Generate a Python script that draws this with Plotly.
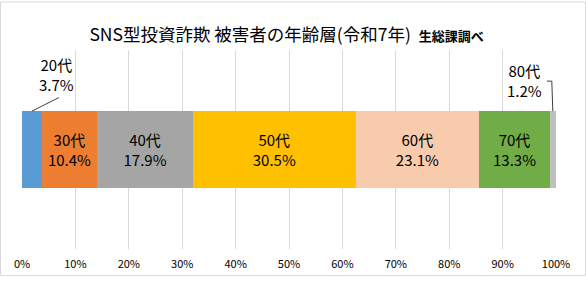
import plotly.graph_objects as go

ages = ["20代", "30代", "40代", "50代", "60代", "70代", "80代"]
shares = [3.7, 10.4, 17.9, 30.5, 23.1, 13.3, 1.2]
colors = ["#5B9BD5", "#ED7D31", "#A5A5A5", "#FFC000", "#F8CBAD", "#70AD47", "#C0C0C0"]
outside = ["20代", "80代"]
tick_vals = [0, 10, 20, 30, 40, 50, 60, 70, 80, 90, 100]
tick_text = [f"{v}%" for v in tick_vals]

FONT = "Noto Sans CJK JP"
BARGAP = 0.615
PW, PH = 534, 205  # plot area in pixels
bar_top = (1 - BARGAP) / 2          # data y of bar top
bar_top_p = 0.5 + bar_top           # paper y of bar top

fig = go.Figure()
for a, v, c in zip(ages, shares, colors):
    txt = "" if a in outside else f"{a}<br>{v:.1f}%"
    fig.add_trace(go.Bar(
        x=[v], y=[0], orientation="h", name=a,
        marker=dict(color=c, line=dict(width=0)),
        text=[txt], textposition="inside", insidetextanchor="middle",
        textfont=dict(family=FONT, size=15, color="black"),
        hoverinfo="skip",
    ))

cum = []
s = 0
for v in shares:
    cum.append(s + v / 2)
    s += v
scale = 100 / s

def px_x(p):  # pixel offset to x data units
    return p / PW * 100

def px_y(p):  # pixel offset to paper units
    return p / PH

shapes = []
i20 = ages.index("20代")
x20 = cum[i20] * scale
fig.add_annotation(
    x=x20, y=bar_top, xref="x", yref="y",
    text=f"{ages[i20]}<br>{shares[i20]:.1f}%",
    showarrow=False, xshift=25, yshift=37,
    font=dict(family=FONT, size=15, color="black"),
)
shapes.append(dict(type="line", xref="x", yref="paper",
                   x0=x20, y0=bar_top_p, x1=x20 + px_x(27), y1=bar_top_p + px_y(14),
                   line=dict(color="#404040", width=1)))

i80 = ages.index("80代")
x80 = cum[i80] * scale
fig.add_annotation(
    x=x80, y=bar_top, xref="x", yref="y",
    text=f"{ages[i80]}<br>{shares[i80]:.1f}%",
    showarrow=False, xshift=-28, yshift=31,
    font=dict(family=FONT, size=15, color="black"),
)
shapes.append(dict(type="path", xref="x", yref="paper",
                   path=(f"M{x80},{bar_top_p} L{x80 - px_x(1)},{bar_top_p + px_y(31)} "
                         f"L{x80 - px_x(6)},{bar_top_p + px_y(31)}"),
                   line=dict(color="#404040", width=1)))

shapes.append(dict(type="rect", xref="paper", yref="paper",
                   x0=-21.5 / PW, x1=(585.5 - 22) / PW,
                   y0=-(282.5 - 255) / PH, y1=1 + 49.5 / PH,
                   line=dict(color="#D9D9D9", width=1), fillcolor="rgba(0,0,0,0)", layer="below"))

fig.update_layout(
    barmode="stack", bargap=BARGAP, showlegend=False,
    width=586, height=283,
    margin=dict(l=22, r=30, t=50, b=28),
    paper_bgcolor="white", plot_bgcolor="white",
    title=dict(
        text="SNS型投資詐欺 被害者の年齢層(令和7年)  <b><span style='font-size:13px'>生総課調べ</span></b>",
        x=0.489, xanchor="center", y=1 - 35 / 283, yanchor="middle", xref="container", yref="container",
        font=dict(family=FONT, size=17.5, color="black"),
    ),
    xaxis=dict(
        range=[0, 100], tickvals=tick_vals, ticktext=tick_text,
        showgrid=True, gridcolor="#D9D9D9", gridwidth=1, zeroline=False,
        showline=False, ticks="", ticklabelstandoff=7,
        tickfont=dict(family=FONT, size=11, color="black"),
    ),
    yaxis=dict(range=[-0.5, 0.5], visible=False, fixedrange=True),
    shapes=shapes,
)
fig.update_traces(cliponaxis=False)
fig.write_html("out.html")
